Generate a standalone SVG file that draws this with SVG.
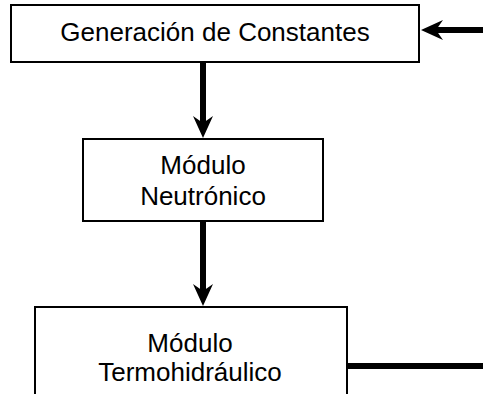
<svg xmlns="http://www.w3.org/2000/svg" width="483" height="394" viewBox="0 0 483 394">
<style>
.box{fill:#fff;stroke:#000;stroke-width:2}
.lbl{font-family:"Liberation Sans",Arial,sans-serif;font-size:26px;fill:#000;text-anchor:middle}
.conn{stroke:#000;stroke-width:6;fill:none}
</style>
<defs>
<marker id="ah" markerUnits="userSpaceOnUse" orient="auto" refX="7" refY="0" markerWidth="30" markerHeight="30" overflow="visible">
<path d="M22,0 L0,-10 L7,0 L0,10 Z" fill="#000"/>
</marker>
</defs>
<rect width="483" height="394" fill="#fff"/>
<g id="n1">
<rect class="box" x="11" y="5" width="408" height="57"/>
<text class="lbl" x="215" y="41">Generación de Constantes</text>
</g>
<g id="n2">
<rect class="box" x="83" y="139" width="240" height="82"/>
<text class="lbl" x="203" y="174">Módulo</text>
<text class="lbl" x="203" y="205">Neutrónico</text>
</g>
<g id="n3">
<rect class="box" x="35" y="307" width="312" height="100"/>
<text class="lbl" x="190" y="352">Módulo</text>
<text class="lbl" x="190" y="381">Termohidráulico</text>
</g>
<g id="connectors">
<line class="conn" x1="203" y1="63" x2="203" y2="123" marker-end="url(#ah)"/>
<line class="conn" x1="203" y1="222" x2="203" y2="291" marker-end="url(#ah)"/>
<line class="conn" x1="483" y1="30" x2="436" y2="30" marker-end="url(#ah)"/>
<line class="conn" x1="348" y1="366" x2="483" y2="366"/>
</g>
</svg>
